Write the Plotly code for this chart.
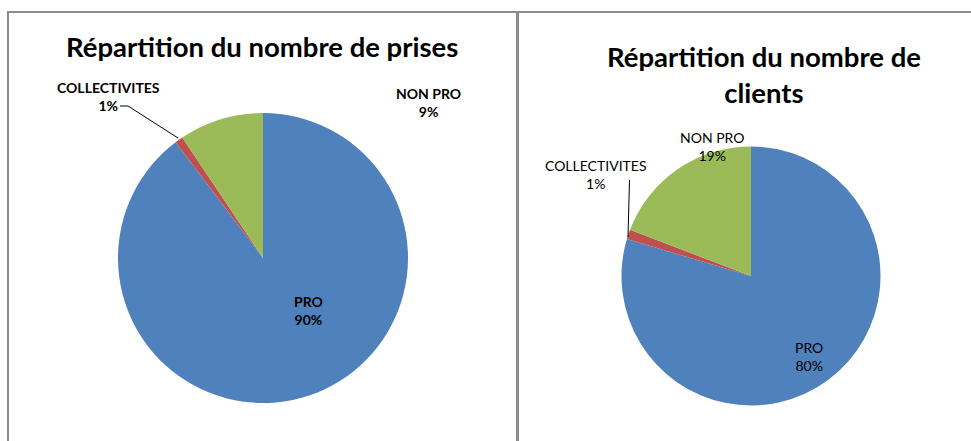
import plotly.graph_objects as go

W, H = 971, 441

categories = ["PRO", "COLLECTIVITES", "NON PRO"]
prises_values = [89.7, 0.9, 9.4]
clients_values = [79.6, 1.2, 19.2]
colors = ["#4f81bd", "#c0504d", "#9bbb59"]

title_left = "Répartition du nombre de prises"
title_right = "Répartition du nombre de<br>clients"

FONT = "Lato, 'Open Sans', sans-serif"


def px(x):
    return x / W


def py(y):
    return 1 - y / H


def pct(values):
    s = sum(values)
    return [f"{round(v / s * 100):.0f}%" for v in values]


fig = go.Figure()

fig.add_trace(go.Pie(
    labels=categories, values=prises_values, sort=False, direction="clockwise",
    rotation=0, marker=dict(colors=colors, line=dict(width=0)),
    textinfo="none", hoverinfo="label+percent", showlegend=False,
    domain=dict(x=[px(118), px(408)], y=[py(403), py(113)]),
))
fig.add_trace(go.Pie(
    labels=categories, values=clients_values, sort=False, direction="clockwise",
    rotation=0, marker=dict(colors=colors, line=dict(width=0)),
    textinfo="none", hoverinfo="label+percent", showlegend=False,
    domain=dict(x=[px(621.5), px(880.5)], y=[py(405.5), py(146.5)]),
))

left_pct = pct(prises_values)
right_pct = pct(clients_values)

annotations = []
annotations.append(dict(text=f"<b>{title_left}</b>", x=px(262), y=py(47),
                        xref="paper", yref="paper", showarrow=False,
                        font=dict(family=FONT, size=27.5, color="black"),
                        xanchor="center", yanchor="middle"))
annotations.append(dict(text=f"<b>{title_right}</b>", x=px(764), y=py(75),
                        xref="paper", yref="paper", showarrow=False,
                        font=dict(family=FONT, size=27.5, color="black"),
                        xanchor="center", yanchor="middle", align="center"))

left_label_pos = {"PRO": (308, 310), "COLLECTIVITES": (108, 97), "NON PRO": (428, 102)}
right_label_pos = {"PRO": (809, 356), "COLLECTIVITES": (596, 174), "NON PRO": (712, 147)}

for cat, p in zip(categories, left_pct):
    x, y = left_label_pos[cat]
    annotations.append(dict(text=f"<b>{cat}<br>{p}</b>", x=px(x), y=py(y),
                            xref="paper", yref="paper", showarrow=False,
                            font=dict(family=FONT, size=14, color="black"),
                            xanchor="center", yanchor="middle", align="center"))
for cat, p in zip(categories, right_pct):
    x, y = right_label_pos[cat]
    annotations.append(dict(text=f"{cat}<br>{p}", x=px(x), y=py(y),
                            xref="paper", yref="paper", showarrow=False,
                            font=dict(family=FONT, size=14, color="black"),
                            xanchor="center", yanchor="middle", align="center"))

border = "#8c8c8c"
shapes = [
    dict(type="line", xref="paper", yref="paper", x0=px(8), y0=py(12), x1=px(517), y1=py(12),
         line=dict(color=border, width=2)),
    dict(type="line", xref="paper", yref="paper", x0=px(8), y0=py(11), x1=px(8), y1=py(445),
         line=dict(color=border, width=2)),
    dict(type="line", xref="paper", yref="paper", x0=px(517.5), y0=py(11), x1=px(517.5), y1=py(445),
         line=dict(color=border, width=3)),
    dict(type="line", xref="paper", yref="paper", x0=px(517), y0=py(12), x1=px(972), y1=py(12),
         line=dict(color=border, width=2)),
    dict(type="path", xref="paper", yref="paper",
         path=f"M {px(120)} {py(106)} L {px(128)} {py(106)} L {px(178)} {py(138)}",
         line=dict(color="black", width=1)),
    dict(type="line", xref="paper", yref="paper", x0=px(629.5), y0=py(180), x1=px(628), y1=py(237),
         line=dict(color="black", width=1)),
]

fig.update_layout(
    width=W, height=H,
    margin=dict(l=0, r=0, t=0, b=0),
    paper_bgcolor="white", plot_bgcolor="white",
    annotations=annotations, shapes=shapes,
    showlegend=False,
)

fig.write_html("out.html", config={"displayModeBar": False},
               post_script="document.body.style.margin='0';document.body.style.overflow='hidden';")
